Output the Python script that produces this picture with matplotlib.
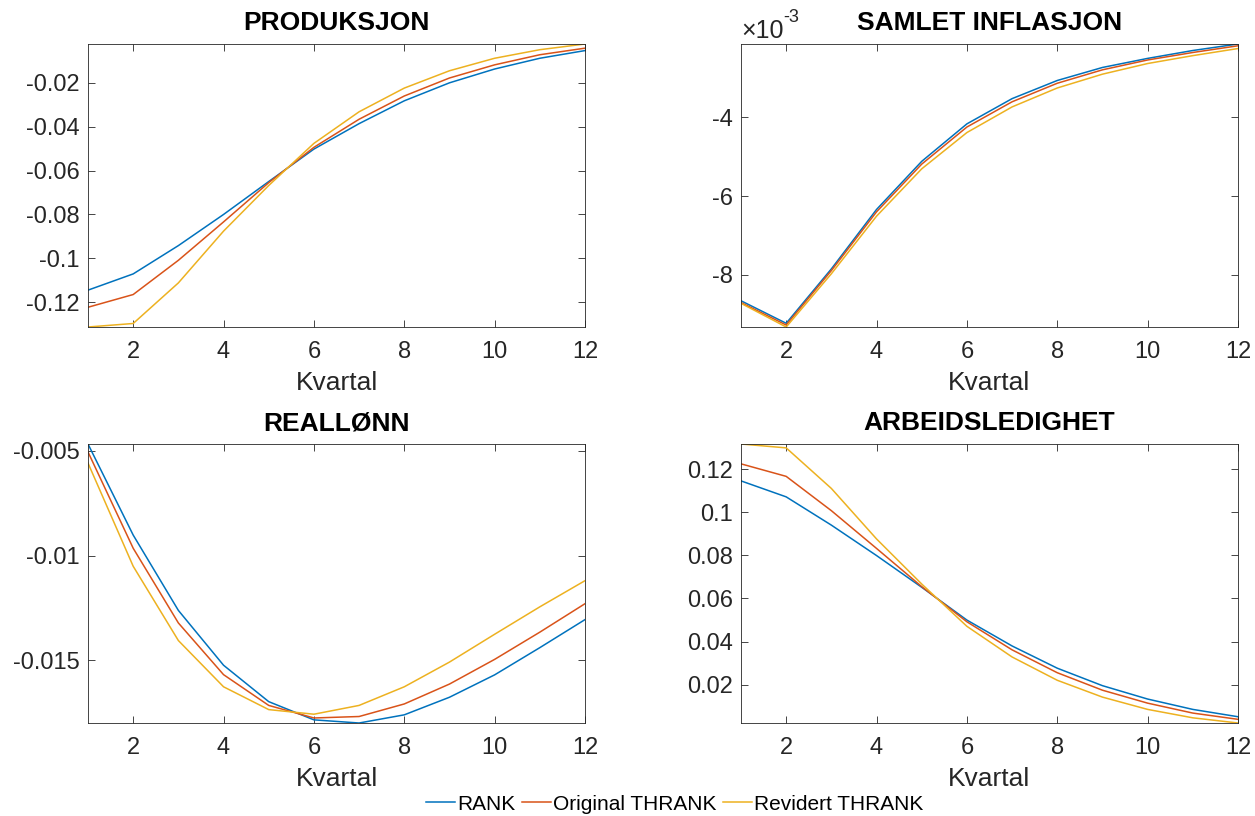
import numpy as np
import matplotlib
matplotlib.use('Agg')
import matplotlib.pyplot as plt
from matplotlib.ticker import FixedLocator, FuncFormatter

plt.rcParams['font.family'] = ['Liberation Sans', 'DejaVu Sans']

kvartal = np.arange(1, 13)
labels = ['RANK', 'Original THRANK', 'Revidert THRANK']
colors = ['#0072BD', '#D95319', '#EDB120']

# PRODUKSJON
prod_rank = [-0.1145, -0.1071, -0.0942, -0.0800, -0.0650, -0.0502, -0.0386, -0.0282, -0.0200, -0.0137, -0.0088, -0.0053]
prod_orig = [-0.1223, -0.1165, -0.1009, -0.0834, -0.0655, -0.0494, -0.0366, -0.0260, -0.0178, -0.0118, -0.0072, -0.0042]
prod_rev = [-0.1313, -0.1297, -0.1112, -0.0876, -0.0668, -0.0476, -0.0332, -0.0224, -0.0145, -0.0088, -0.0049, -0.0023]

# SAMLET INFLASJON (x 1e-3)
infl_rank = [-8.655, -9.226, -7.847, -6.34, -5.12, -4.17, -3.53, -3.07, -2.74, -2.51, -2.31, -2.145]
infl_orig = [-8.70, -9.27, -7.89, -6.40, -5.19, -4.25, -3.61, -3.14, -2.80, -2.55, -2.36, -2.19]
infl_rev = [-8.72, -9.32, -7.97, -6.51, -5.31, -4.39, -3.74, -3.26, -2.91, -2.64, -2.44, -2.26]

# REALLØNN
wage_rank = [-0.00467, -0.00902, -0.01262, -0.01524, -0.01698, -0.01785, -0.01800, -0.01761, -0.01677, -0.01570, -0.01440, -0.01306]
wage_orig = [-0.00505, -0.00965, -0.01322, -0.01569, -0.01716, -0.01776, -0.01769, -0.01709, -0.01614, -0.01496, -0.01366, -0.01230]
wage_rev = [-0.00558, -0.01051, -0.01406, -0.01627, -0.01736, -0.01758, -0.01716, -0.01627, -0.01509, -0.01376, -0.01245, -0.01120]

# ARBEIDSLEDIGHET
unemp_rank = [0.1145, 0.1071, 0.0940, 0.0799, 0.0652, 0.0500, 0.0380, 0.0277, 0.0196, 0.0134, 0.0086, 0.0052]
unemp_orig = [0.1224, 0.1166, 0.1007, 0.0832, 0.0655, 0.0492, 0.0362, 0.0256, 0.0175, 0.0115, 0.0069, 0.0040]
unemp_rev = [0.1316, 0.1298, 0.1110, 0.0876, 0.0667, 0.0471, 0.0329, 0.0221, 0.0143, 0.0086, 0.0047, 0.0023]

W, H = 1255, 816
fig = plt.figure(figsize=(W / 100, H / 100), dpi=100)


def make_axes(left, top, right, bottom):
    return fig.add_axes([left / W, 1 - bottom / H, (right - left) / W, (bottom - top) / H])


def style(ax, title, yticks, fmt):
    ax.set_xlim(1, 12)
    ax.set_xticks([2, 4, 6, 8, 10, 12])
    ax.yaxis.set_major_locator(FixedLocator(yticks))
    ax.yaxis.set_major_formatter(FuncFormatter(fmt))
    ax.tick_params(direction='in', top=True, right=True, length=5, width=0.6,
                   labelsize=17, colors='#262626')
    ax.tick_params(axis='x', pad=10)
    ax.tick_params(axis='y', pad=6)
    for s in ax.spines.values():
        s.set_color('#262626')
        s.set_linewidth(0.6)
    ax.set_title(title, fontsize=19, fontweight='bold', pad=10)
    ax.set_xlabel('Kvartal', fontsize=19, color='#262626', labelpad=6)


def g(v, pos):
    return '%g' % v


series = [
    ('PRODUKSJON', (prod_rank, prod_orig, prod_rev), (88, 44, 585, 327),
     [-0.12, -0.1, -0.08, -0.06, -0.04, -0.02], g),
    ('SAMLET INFLASJON', (infl_rank, infl_orig, infl_rev), (741, 44, 1238, 327),
     [-8, -6, -4], g),
    ('REALLØNN', (wage_rank, wage_orig, wage_rev), (88, 444, 585, 723),
     [-0.015, -0.01, -0.005], g),
    ('ARBEIDSLEDIGHET', (unemp_rank, unemp_orig, unemp_rev), (741, 444, 1238, 723),
     [0.02, 0.04, 0.06, 0.08, 0.1, 0.12], g),
]

handles = []
for title, data, box, yt, fmt in series:
    ax = make_axes(*box)
    for y, c, lab in zip(data, colors, labels):
        ln, = ax.plot(kvartal, y, color=c, lw=1.1, label=lab)
        if len(handles) < 3:
            handles.append(ln)
    allv = np.concatenate([np.asarray(d) for d in data])
    ax.set_ylim(allv.min(), allv.max())
    style(ax, title, yt, fmt)
    if title == 'SAMLET INFLASJON':
        ax.text(0.0, 1.005, '\u00d710', transform=ax.transAxes,
                fontsize=18, color='#262626', ha='left', va='bottom')
        ax.text(0.086, 1.065, '-3', transform=ax.transAxes,
                fontsize=13, color='#262626', ha='left', va='bottom')

fig.legend(handles, labels, loc='center', bbox_to_anchor=(675 / W, 1 - 804 / H),
           ncol=3, frameon=False, fontsize=15, handlelength=1.4,
           handletextpad=0.1, columnspacing=0.3)

fig.savefig('out.png', dpi=100)
